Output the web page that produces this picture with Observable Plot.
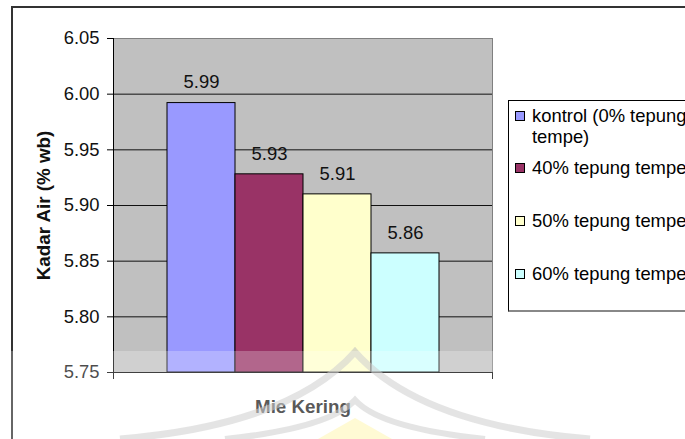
<!DOCTYPE html>
<html>
<head>
<meta charset="utf-8">
<script src="https://cdn.jsdelivr.net/npm/d3@7"></script>
<script src="https://cdn.jsdelivr.net/npm/@observablehq/plot@0.6"></script>
<style>
  html, body { margin: 0; padding: 0; background: #fff; }
  #wrap { position: relative; width: 685px; height: 439px; overflow: hidden; font-family: "Liberation Sans", Arial, sans-serif; }
  #outer { position: absolute; left: 11px; top: 6px; width: 800px; height: 600px; border-left: 2px solid #333; border-top: 2px solid #333; }
  #chart { position: absolute; left: 0; top: 0; }
  #legend { position: absolute; left: 508px; top: 100px; width: 300px; height: 209px; border: 1px solid #000; border-bottom: 2px solid #888; background: #fff; }
  .item { position: absolute; left: 0; font-size: 18.4px; line-height: 21.7px; color: #000; white-space: nowrap; }
  .sw { position: absolute; left: 6px; top: 6px; width: 8px; height: 8px; border: 1px solid #000; }
  .txt { position: absolute; left: 23px; top: 0; }
  #band { position: absolute; left: 0; top: 351px; width: 685px; height: 90px; background: rgba(255,255,255,0.25); }
  #mark { position: absolute; left: 0; top: 0; }
</style>
</head>
<body>
<div id="wrap">
  <div id="outer"></div>
  <div id="chart"></div>
  <div id="legend"></div>
  <svg id="mark" width="685" height="439">
    <path d="M 120 439 Q 290 425 355 352 Q 420 425 590 439" fill="none" stroke="#bdbdbd" stroke-width="7" opacity="0.55"/>
    <path d="M 225 439 Q 330 428 355 400 Q 380 428 485 439" fill="none" stroke="#bdbdbd" stroke-width="6" opacity="0.55"/>
    <path d="M 318 439 L 355 418 L 392 439 Z" fill="#fff3a0" opacity="0.6"/>
  </svg>
  <div id="band"></div>
</div>
<script>
const group = "Mie Kering";
const categories = ["kontrol (0% tepung tempe)", "40% tepung tempe", "50% tepung tempe", "60% tepung tempe"];
const legendLines = [["kontrol (0% tepung", "tempe)"], ["40% tepung tempe"], ["50% tepung tempe"], ["60% tepung tempe"]];
const values = [5.992, 5.928, 5.910, 5.857];
const valueLabels = ["5.99", "5.93", "5.91", "5.86"];
const colors = ["#9999FF", "#993366", "#FFFFCC", "#CCFFFF"];
const yTicks = [5.75, 5.80, 5.85, 5.90, 5.95, 6.00, 6.05];
const yTitle = "Kadar Air (% wb)";

const data = categories.map((c, i) => ({series: c, value: values[i], label: valueLabels[i]}));
const yMin = yTicks[0];
const yMax = yTicks[yTicks.length - 1];

const chart = Plot.plot({
  width: 685,
  height: 439,
  marginLeft: 113,
  marginRight: 193,
  marginTop: 38,
  marginBottom: 67,
  style: {fontFamily: "'Liberation Sans', Arial, sans-serif", fontSize: "18.4px", color: "#000", background: "transparent", overflow: "visible"},
  x: {type: "band", domain: categories, paddingInner: 0, paddingOuter: 0.76, axis: null},
  y: {domain: [yMin, yMax]},
  color: {domain: categories, range: colors},
  marks: [
    Plot.frame({fill: "#c0c0c0", stroke: null}),
    Plot.ruleY(yTicks.slice(1, -1), {stroke: "#111", strokeWidth: 1}),
    Plot.barY(data, {x: "series", y1: () => yMin, y2: "value", fill: "series", stroke: "#000", strokeWidth: 1}),
    Plot.frame({stroke: "#808080", fill: null}),
    Plot.ruleY([yMin], {stroke: "#000", strokeWidth: 1}),
    Plot.frame({anchor: "left", stroke: "#000", insetBottom: -6}),
    Plot.frame({anchor: "right", stroke: "#000", insetTop: 334, insetBottom: -6}),
    Plot.axisY({ticks: yTicks, tickFormat: d => d.toFixed(2), tickSize: 6, tickPadding: 8, label: null, fontSize: "18.4px", fill: "#111"}),
    Plot.text(data, {x: "series", y: "value", text: "label", dy: -20.5, fontSize: "18.4px", fill: "#111"}),
    Plot.text([group], {frameAnchor: "bottom", lineAnchor: "middle", textAnchor: "middle", dy: 34.5, fontWeight: "bold", fontSize: "18.8px", fill: "#222"}),
    Plot.text([yTitle], {frameAnchor: "left", textAnchor: "middle", lineAnchor: "middle", dx: -70, rotate: -90, fontWeight: "bold", fontSize: "18.8px", fill: "#111"})
  ]
});
document.getElementById("chart").appendChild(chart);

const legend = document.getElementById("legend");
const legendTop0 = 3.5, legendStep = 52.8;
legendLines.forEach((lines, i) => {
  const item = document.createElement("div");
  item.className = "item";
  item.style.top = (legendTop0 + i * legendStep) + "px";
  const sw = document.createElement("div");
  sw.className = "sw";
  sw.style.background = colors[i];
  const t = document.createElement("div");
  t.className = "txt";
  t.innerHTML = lines.join("<br>");
  item.appendChild(sw);
  item.appendChild(t);
  legend.appendChild(item);
});
</script>
</body>
</html>
